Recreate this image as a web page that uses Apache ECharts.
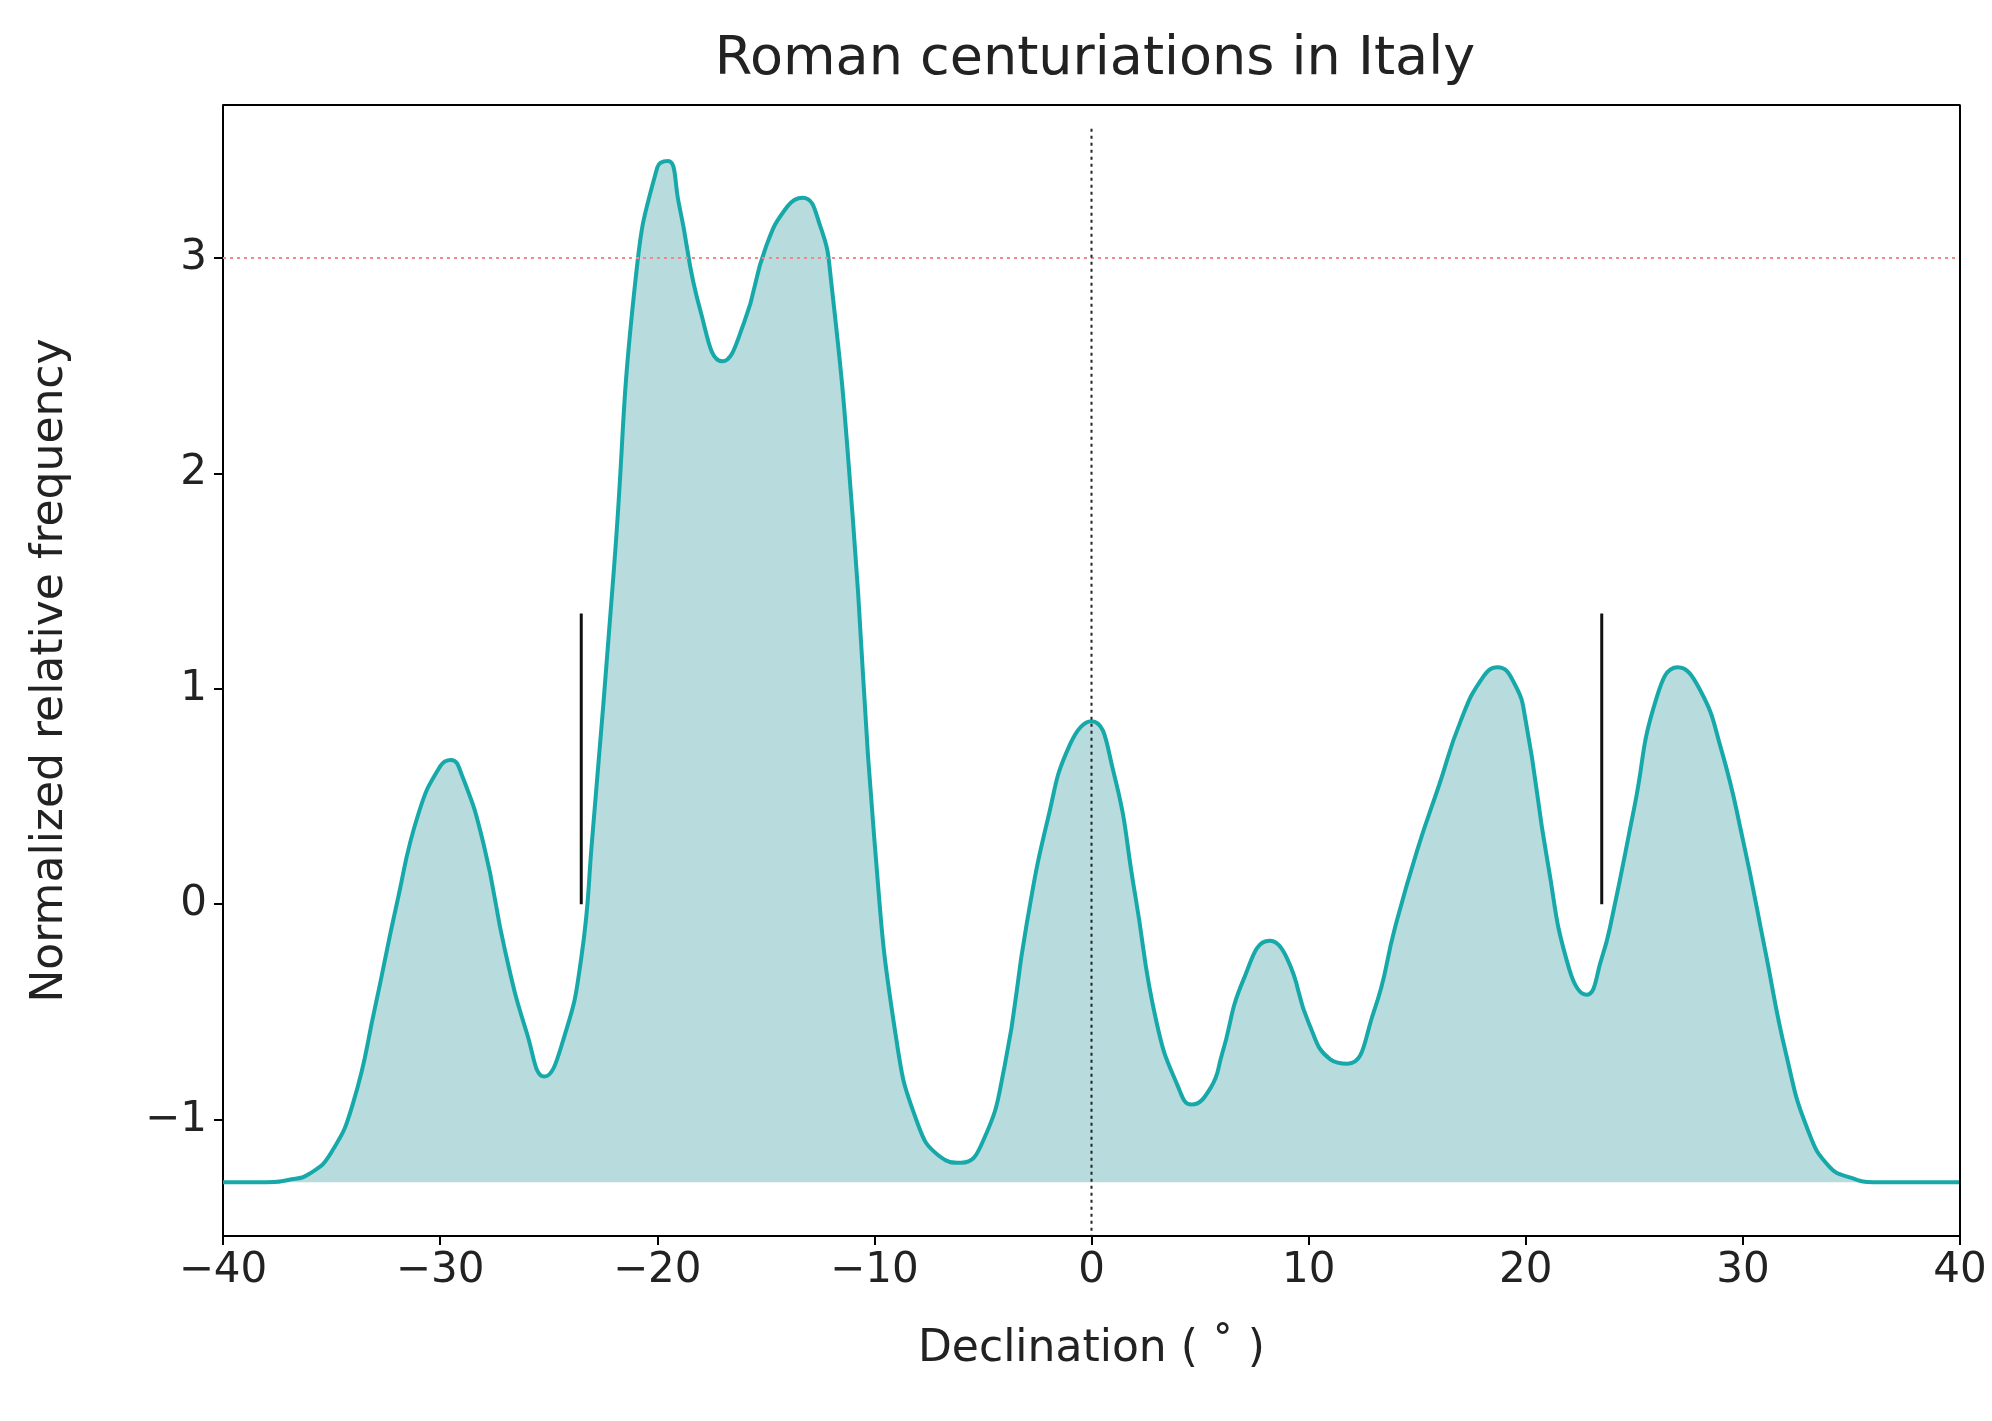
<!DOCTYPE html>
<html>
<head>
<meta charset="utf-8">
<script src="https://cdn.jsdelivr.net/npm/echarts@6/dist/echarts.min.js"></script>
<style>
html, body, #chart { margin: 0; padding: 0; width: 1992px; height: 1421px; background: #fff; }
</style>
</head>
<body>
<div id="chart"></div>
<script>
var declination = [-40, -38, -37, -36, -35, -34, -33, -32, -31, -30, -29.5, -29, -28, -27, -26, -25.2, -24.3, -23.5, -23, -22, -21, -20, -19.5, -19, -18, -17, -16, -15, -14, -13.3, -12.5, -12, -11, -10, -9, -8, -7, -6, -5, -4, -3, -2, -1, 0, 1, 2, 3, 4, 4.6, 5.5, 6, 7, 8.2, 9, 10, 11, 11.8, 13, 14, 15, 16, 17, 18, 18.7, 19.5, 20, 21, 22, 22.8, 23.5, 24, 25, 26, 27, 28, 29, 30, 31, 32, 33, 34, 35, 36, 37, 40];
var frequency = [-1.29, -1.29, -1.28, -1.25, -1.15, -0.92, -0.48, 0.0, 0.42, 0.64, 0.67, 0.6, 0.28, -0.22, -0.6, -0.8, -0.62, -0.25, 0.3, 1.55, 2.9, 3.42, 3.45, 3.25, 2.75, 2.52, 2.7, 3.05, 3.24, 3.28, 3.15, 2.9, 1.8, 0.3, -0.62, -1.02, -1.17, -1.2, -1.1, -0.75, -0.1, 0.4, 0.74, 0.85, 0.62, 0.05, -0.55, -0.85, -0.93, -0.85, -0.7, -0.35, -0.17, -0.25, -0.55, -0.72, -0.74, -0.5, -0.1, 0.25, 0.55, 0.85, 1.05, 1.1, 1.02, 0.85, 0.2, -0.3, -0.42, -0.25, -0.05, 0.45, 0.95, 1.1, 1.0, 0.72, 0.3, -0.2, -0.7, -1.05, -1.22, -1.27, -1.29, -1.29, -1.29];
var baseline = -1.29;
var solsticeX = [-23.5, 23.5];
var solsticeY = [0, 1.35];
var yTicks = [-1, 0, 1, 2, 3];

var chart = echarts.init(document.getElementById('chart'));
var font = 'DejaVu Sans';
var curve = declination.map(function (d, i) { return [d, frequency[i]]; });
function minus(v) { return String(v).replace('-', '\u2212'); }

var option = {
    backgroundColor: '#fff',
    animation: false,
    title: {
        text: 'Roman centuriations in Italy',
        left: 1090, textAlign: 'center', top: 28,
        textStyle: { fontFamily: font, fontWeight: 'normal', fontSize: 54, color: '#222' }
    },
    grid: { left: 223, right: 32, top: 105, bottom: 185 },
    xAxis: {
        type: 'value', min: -40, max: 40, interval: 10,
        name: 'Declination ( ˚ )', nameLocation: 'middle', nameGap: 92,
        nameTextStyle: { fontFamily: font, fontSize: 44, color: '#222' },
        axisLine: { show: true, onZero: false, lineStyle: { color: '#000', width: 2 } },
        axisTick: { show: true, length: 9, lineStyle: { color: '#000', width: 2 } },
        axisLabel: { fontFamily: font, fontSize: 42, color: '#222', margin: 14, formatter: minus },
        splitLine: { show: false }
    },
    yAxis: {
        type: 'value', min: -1.54, max: 3.71,
        name: 'Normalized relative frequency', nameLocation: 'middle', nameGap: 150,
        nameTextStyle: { fontFamily: font, fontSize: 44, color: '#222' },
        axisLine: { show: true, onZero: false, lineStyle: { color: '#000', width: 2 } },
        axisTick: { show: true, length: 9, customValues: yTicks, lineStyle: { color: '#000', width: 2 } },
        axisLabel: { fontFamily: font, fontSize: 42, color: '#222', margin: 16,
            customValues: yTicks, formatter: minus },
        splitLine: { show: false }
    },
    series: [
        {
            type: 'line', data: curve, smooth: 0.5, symbol: 'none',
            lineStyle: { color: '#17a9a9', width: 4 },
            areaStyle: { color: '#b8dbdd', opacity: 1, origin: baseline },
            z: 2
        },
        {
            type: 'line', data: [[-40, 3], [40, 3]], symbol: 'none',
            lineStyle: { color: '#f08a8a', width: 2, type: [3, 4] }, z: 3
        },
        {
            type: 'line', data: [[0, 3.6], [0, -1.54]], symbol: 'none',
            lineStyle: { color: '#222', width: 2, type: [3, 4] }, z: 4
        },
        {
            type: 'line', data: [[solsticeX[0], solsticeY[0]], [solsticeX[0], solsticeY[1]]], symbol: 'none',
            lineStyle: { color: '#111', width: 3 }, z: 4
        },
        {
            type: 'line', data: [[solsticeX[1], solsticeY[0]], [solsticeX[1], solsticeY[1]]], symbol: 'none',
            lineStyle: { color: '#111', width: 3 }, z: 4
        },
        {
            // top and right spines
            type: 'line', data: [[-40, 3.71], [40, 3.71], [40, -1.54]], symbol: 'none',
            lineStyle: { color: '#000', width: 2 }, z: 5
        }
    ]
};
chart.setOption(option);
</script>
</body>
</html>
